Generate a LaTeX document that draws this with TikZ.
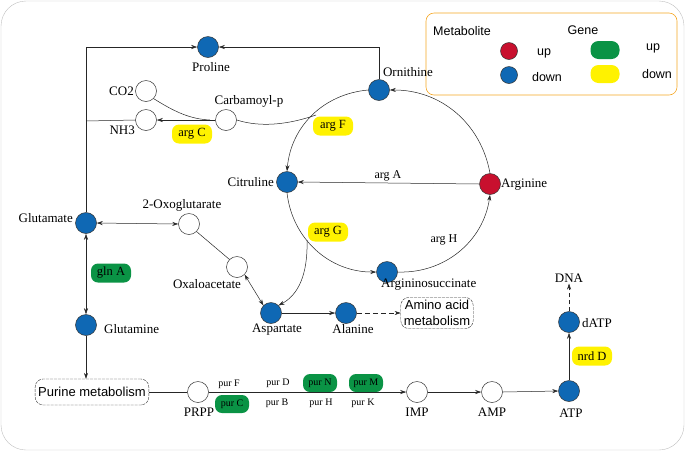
\documentclass[tikz,border=0pt]{standalone}
\usepackage{fontspec}
\setmainfont{Liberation Serif}
\newfontfamily\sansf{Liberation Sans}
\usetikzlibrary{arrows.meta}
\definecolor{mblue}{HTML}{0F68B4}
\definecolor{mred}{HTML}{C8102E}
\definecolor{ggreen}{HTML}{0A9345}
\definecolor{gyellow}{HTML}{FFF200}
\definecolor{lorange}{HTML}{F5A623}
\begin{document}
\begin{tikzpicture}[x=1pt,y=-1pt,
  met/.style={circle,draw=black!80,line width=0.5pt,minimum size=21pt,inner sep=0pt},
  down/.style={met,fill=mblue},
  up/.style={met,fill=mred},
  emp/.style={met,fill=white},
  lab/.style={font=\fontsize{13}{14}\selectfont,inner sep=1pt},
  gene/.style={rounded corners=7pt,minimum width=40pt,minimum height=19pt,inner sep=1pt,font=\fontsize{12.5}{14}\selectfont},
  gup/.style={gene,fill=ggreen},
  gdown/.style={gene,fill=gyellow},
  pgene/.style={gup,minimum width=34pt,minimum height=18pt,font=\fontsize{10}{12}\selectfont},
  small/.style={font=\fontsize{10}{12}\selectfont,inner sep=1pt},
  leg/.style={font=\sansf\fontsize{12.5}{14}\selectfont},
  box/.style={draw=black!80,dashed,dash pattern=on 3pt off 1pt,rounded corners=8pt,font=\sansf\fontsize{13}{15.5}\selectfont,align=center,inner sep=3pt},
  ar/.style={-{Stealth[length=6pt,width=4pt]},line width=0.5pt,draw=black!85},
  dar/.style={{Stealth[length=6pt,width=4pt]}-{Stealth[length=6pt,width=4pt]},line width=0.5pt,draw=black!85},
  ln/.style={line width=0.5pt,draw=black!85}]
\useasboundingbox (0,0) rectangle (685,451);
\draw[black!25,rounded corners=25pt] (1,1) rectangle (684,450);
% legend
\draw[lorange,rounded corners=8pt,line width=0.6pt] (426,13) rectangle (677,95);
\node[leg] (lm) at (462,31) {Metabolite};
\node[leg] (lg) at (583,30) {Gene};
\node[up,minimum size=17pt] (lr) at (509,51) {};
\node[down,minimum size=17pt] (lb) at (509,75) {};
\node[leg] (lu1) at (544,53) {up};
\node[leg] (ld1) at (547,77) {down};
\node[gup,minimum width=29pt,minimum height=18pt,rounded corners=8pt] (lgu) at (605,50) {};
\node[gdown,minimum width=29pt,minimum height=18pt,rounded corners=8pt] (lgd) at (605,74) {};
\node[leg] (lu2) at (653,48) {up};
\node[leg] (ld2) at (657,74) {down};
% metabolites
\node[down] (pro) at (208,47) {};
\node[lab] at (211,67) {Proline};
\node[emp] (co2) at (146,91) {};
\node[lab,anchor=east] at (135,91) {CO2};
\node[emp] (nh3) at (146,120) {};
\node[lab,anchor=east] at (136,130) {NH3};
\node[emp] (carb) at (226,120) {};
\node[lab] at (249,101) {Carbamoyl-p};
\node[down] (orn) at (379,90) {};
\node[lab] at (408,72) {Ornithine};
\node[down] (cit) at (287,182) {};
\node[lab,anchor=east] at (275,182) {Citruline};
\node[up] (argn) at (490,184) {};
\node[lab,anchor=west] at (500,185) {Arginine};
\node[down] (asuc) at (387,272) {};
\node[lab,anchor=west] at (380,285) {Argininosuccinate};
\node[down] (glu) at (86,223) {};
\node[lab,anchor=east] at (74,218) {Glutamate};
\node[emp] (oxg) at (189,224) {};
\node[lab] at (182,205) {2-Oxoglutarate};
\node[emp] (oxa) at (237,267) {};
\node[lab] at (207,284) {Oxaloacetate};
\node[down] (asp) at (271,313) {};
\node[lab] at (277,330) {Aspartate};
\node[down] (ala) at (346,313) {};
\node[lab] at (353,329) {Alanine};
\node[box] (aam) at (437,313) {Amino acid\\metabolism};
\node[down] (gln) at (86,325) {};
\node[lab,anchor=west] at (103,329) {Glutamine};
\node[box,minimum width=108pt,minimum height=26pt] (pur) at (92,392) {Purine metabolism};
\node[emp] (prpp) at (198,392) {};
\node[lab] at (199,412) {PRPP};
\node[emp] (imp) at (417,392) {};
\node[lab] at (417,412) {IMP};
\node[emp] (amp) at (492,392) {};
\node[lab] at (492,412) {AMP};
\node[down] (atp) at (569,391) {};
\node[lab] at (571,413) {ATP};
\node[down] (datp) at (569,322) {};
\node[lab,anchor=west] at (581,323) {dATP};
\node[lab] (dna) at (569,278) {DNA};
% genes
\node[gdown] at (192,134) {arg C};
\node[gdown] at (333,126) {arg F};
\node[gdown] at (328,232) {arg G};
\node[gup] at (111,273) {gln A};
\node[gdown] at (592,356) {nrd D};
\node[lab,font=\fontsize{12}{14}\selectfont] at (388,176) {arg A};
\node[lab,font=\fontsize{12}{14}\selectfont] at (444,240) {arg H};
\node[small] at (229,384) {pur F};
\node[pgene] at (232,404) {pur C};
\node[small] at (278,383) {pur D};
\node[small] at (277,403) {pur B};
\node[pgene] at (320,383) {pur N};
\node[small] at (321,403) {pur H};
\node[pgene] at (366,383) {pur M};
\node[small] at (363,403) {pur K};
% connectors
\coordinate (tl) at (86,47);
\coordinate (tr) at (379,47);
\coordinate (nj) at (86,121);
\draw[ar] (glu.north) -- (tl) -- (pro.west);
\draw[ar] (orn.north) -- (tr) -- (pro.east);
\draw[ln] (nj) -- (nh3.west);
\draw[ar] (carb.west) -- (nh3.east);
\draw[ln] (co2.south east) .. controls (175,112) and (190,119) .. (210,120);
\coordinate (fj) at (316,115);
\draw[ln] (carb.east) .. controls (262,128) and (290,124) .. (fj);
\draw[ar] (orn.west) to[bend right=40] (cit.north);
\draw[ar] (cit.south) to[bend right=42] (asuc.west);
\draw[ar] (asuc.east) to[bend right=42] (argn.south);
\draw[ar] (argn.north) to[bend right=40] (orn.east);
\draw[ar] (argn.west) -- (cit.east);
\coordinate (gj) at (307,240);
\draw[ar] (gj) .. controls (308,275) and (298,295) .. (asp.north east);
\draw[dar] (glu.east) -- (oxg.west);
\draw[ln] (oxg.south east) -- (oxa.north west);
\draw[dar] (oxa.south east) -- (asp.north west);
\draw[ar] (asp.east) -- (ala.west);
\draw[ar,dashed,dash pattern=on 5pt off 3pt] (ala.east) -- (aam.west);
\draw[dar] (glu.south) -- (gln.north);
\draw[ar] (gln.south) -- (pur.north -| gln);
\draw[ln] (pur.east) -- (prpp.west);
\draw[ar] (prpp.east) -- (imp.west);
\draw[ar] (imp.east) -- (amp.west);
\draw[ar] (amp.east) -- (atp.west);
\draw[ar] (atp.north) -- (datp.south);
\draw[ar,dashed,dash pattern=on 4pt off 3pt] (datp.north) -- (dna.south);
\end{tikzpicture}
\end{document}
